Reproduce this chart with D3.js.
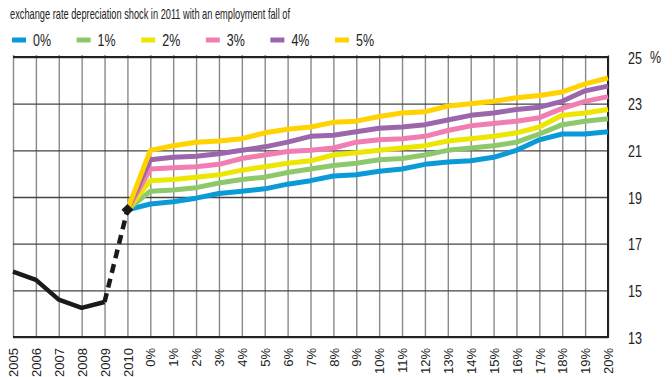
<!DOCTYPE html>
<html>
<head>
<meta charset="utf-8">
<script src="https://cdn.jsdelivr.net/npm/d3@7"></script>
<style>
  body { margin: 0; background: #fff; }
  text { font-family: "Liberation Sans Narrow", "Liberation Sans", sans-serif; fill: #222; }
</style>
</head>
<body>
<script>
var w = 672;
var h = 377;

// Data
var years = ["2005", "2006", "2007", "2008", "2009", "2010"];
var shocks = ["0%", "1%", "2%", "3%", "4%", "5%", "6%", "7%", "8%", "9%", "10%",
              "11%", "12%", "13%", "14%", "15%", "16%", "17%", "18%", "19%", "20%"];
var histValues = [15.8, 15.45, 14.6, 14.25, 14.5, 18.45];

var legendLabels = ["0%", "1%", "2%", "3%", "4%", "5%"];
var colors = ["#0a9ad8", "#8dc96a", "#ece600", "#f27db2", "#9b66ab", "#ffd200"];

var fall0 = [18.7, 18.8, 18.95, 19.15, 19.25, 19.35, 19.55, 19.7, 19.9, 19.95, 20.1, 20.2, 20.4, 20.5, 20.55, 20.7, 21.0, 21.45, 21.7, 21.7, 21.8];
var fall1 = [19.25, 19.3, 19.4, 19.6, 19.75, 19.85, 20.05, 20.2, 20.35, 20.45, 20.6, 20.65, 20.8, 21.0, 21.1, 21.2, 21.35, 21.7, 22.1, 22.25, 22.35];
var fall2 = [19.7, 19.75, 19.85, 19.95, 20.15, 20.3, 20.45, 20.55, 20.8, 20.9, 21.0, 21.1, 21.2, 21.4, 21.5, 21.6, 21.75, 22.0, 22.5, 22.6, 22.75];
var fall3 = [20.2, 20.25, 20.3, 20.4, 20.65, 20.8, 20.95, 21.0, 21.1, 21.35, 21.45, 21.5, 21.6, 21.85, 22.05, 22.15, 22.25, 22.4, 22.8, 23.1, 23.3];
var fall4 = [20.6, 20.7, 20.75, 20.85, 21.0, 21.15, 21.35, 21.6, 21.65, 21.8, 21.95, 22.0, 22.1, 22.3, 22.5, 22.6, 22.75, 22.85, 23.1, 23.55, 23.75];
var fall5 = [21.0, 21.2, 21.35, 21.4, 21.5, 21.75, 21.9, 22.0, 22.2, 22.25, 22.45, 22.6, 22.65, 22.9, 23.0, 23.1, 23.25, 23.35, 23.5, 23.85, 24.1];
var series = [fall0, fall1, fall2, fall3, fall4, fall5];

var yTicks = [13, 15, 17, 19, 21, 23, 25];

var categories = years.concat(shocks);

var svg = d3.select("body")
            .append("svg")
            .attr("width", w)
            .attr("height", h);

// Scales (plot box)
var pLeft = 13, pRight = 608, pTop = 57, pBottom = 337;
var xScale = d3.scalePoint()
               .domain(categories)
               .range([pLeft, pRight]);
var yScale = d3.scaleLinear()
               .domain([13, 25])
               .range([pBottom, pTop]);

// Title
svg.append("text")
   .attr("x", 10)
   .attr("y", 19)
   .attr("font-size", "14.5px")
   .attr("textLength", 280)
   .attr("lengthAdjust", "spacingAndGlyphs")
   .text("exchange rate depreciation shock in 2011 with an employment fall of");

// Legend
var legend = svg.selectAll(".legend")
                .data(legendLabels)
                .enter()
                .append("g")
                .attr("class", "legend")
                .attr("transform", function(d, i) { return "translate(" + (12 + i * 64.6) + ",40)"; });
legend.append("rect")
      .attr("x", 0).attr("y", -2.5)
      .attr("width", 14).attr("height", 5)
      .attr("fill", function(d, i) { return colors[i]; });
legend.append("text")
      .attr("transform", "translate(21,5.5) scale(0.78,1)")
      .attr("font-size", "16px")
      .text(function(d) { return d; });

// Vertical grid
svg.append("g")
   .attr("class", "xgrid")
   .attr("transform", "translate(0," + pBottom + ")")
   .call(d3.axisBottom(xScale).tickSize(-(pBottom - pTop) - 2).tickFormat(""))
   .call(function(g) {
       g.select(".domain").remove();
       g.selectAll("line").attr("stroke", "#8a8a8a").attr("stroke-width", 1.4);
   });

// Horizontal grid
svg.append("g")
   .attr("class", "ygrid")
   .attr("transform", "translate(" + pLeft + ",0)")
   .call(d3.axisLeft(yScale).tickValues(yTicks).tickSize(-(pRight - pLeft)).tickFormat(""))
   .call(function(g) {
       g.select(".domain").remove();
       g.selectAll("line").attr("stroke", "#444").attr("stroke-width", 1.3);
   });

// Frame (top, right, bottom)
svg.append("path")
   .attr("d", "M" + pLeft + "," + pTop + "H" + pRight + "V" + pBottom + "H" + pLeft)
   .attr("fill", "none")
   .attr("stroke", "#222")
   .attr("stroke-width", 2);

// X labels
svg.append("g")
   .attr("class", "xaxis")
   .attr("transform", "translate(0," + pBottom + ")")
   .call(d3.axisBottom(xScale).tickSize(0))
   .call(function(g) {
       g.select(".domain").remove();
       g.selectAll("text")
        .attr("font-size", "13px")
        .attr("font-family", "'Liberation Sans Narrow', sans-serif")
        .attr("fill", "#222")
        .attr("text-anchor", "end")
        .attr("x", 0).attr("y", 0)
        .attr("dy", "0.36em")
        .attr("transform", "translate(0,11) rotate(-90)");
   });

// Y labels
svg.append("g")
   .attr("class", "yaxis")
   .attr("transform", "translate(" + pRight + ",0)")
   .call(d3.axisRight(yScale).tickValues(yTicks).tickSize(0))
   .call(function(g) {
       g.select(".domain").remove();
       g.selectAll("text")
        .attr("font-size", "17px")
        .attr("font-family", "'Liberation Sans Narrow', sans-serif")
        .attr("fill", "#222")
        .attr("x", 0)
        .attr("dy", "0.36em")
        .attr("transform", "translate(20,0) scale(0.74,1)");
   });

svg.append("text")
   .attr("transform", "translate(650," + (pTop + 6) + ") scale(0.78,1)")
   .attr("font-size", "16px")
   .text("%");

// Scenario lines
var line = d3.line()
             .x(function(d) { return xScale(d[0]); })
             .y(function(d) { return yScale(d[1]); });

series.forEach(function(vals, i) {
    var pts = [["2010", histValues[5]]].concat(shocks.map(function(c, j) { return [c, vals[j]]; }));
    svg.append("path")
       .datum(pts)
       .attr("d", line)
       .attr("fill", "none")
       .attr("stroke", colors[i])
       .attr("stroke-width", 5)
       .attr("stroke-linejoin", "round");
});

// History line
var histPts = years.map(function(y, i) { return [y, histValues[i]]; });
svg.append("path")
   .datum(histPts.slice(0, 5))
   .attr("d", line)
   .attr("fill", "none")
   .attr("stroke", "#1a1a1a")
   .attr("stroke-width", 4.5)
   .attr("stroke-linejoin", "round");
svg.append("path")
   .datum(histPts.slice(4, 6))
   .attr("d", line)
   .attr("fill", "none")
   .attr("stroke", "#1a1a1a")
   .attr("stroke-width", 4.5)
   .attr("stroke-dasharray", "9,6");

svg.append("path")
   .attr("d", d3.symbol().type(d3.symbolDiamond2).size(90))
   .attr("transform", "translate(" + xScale("2010") + "," + yScale(histValues[5]) + ")")
   .attr("fill", "#1a1a1a");
</script>
</body>
</html>
